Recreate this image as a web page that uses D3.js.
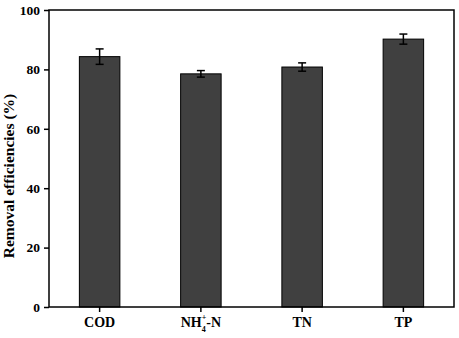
<!DOCTYPE html>
<html>
<head>
<meta charset="utf-8">
<script src="https://cdn.jsdelivr.net/npm/d3@7"></script>
<style>
  body { margin: 0; background: #fff; }
  svg text { font-family: "Liberation Serif", "Times New Roman", serif; font-weight: bold; }
</style>
</head>
<body>
<div id="chart"></div>
<script>
/* CONSTANTS AND GLOBALS */
const width = 459, height = 338,
  margin = {top: 10, bottom: 31, left: 49, right: 5};

// chart values
const categories = ["COD", "NH4+-N", "TN", "TP"];
const removal = [84.3, 78.5, 80.8, 90.2];
const errors = [2.6, 1.1, 1.4, 1.7];
const yTicks = [0, 20, 40, 60, 80, 100];

const data = categories.map((c, i) => ({cat: c, value: removal[i], err: errors[i]}));

const svg = d3.select("#chart")
  .append("svg")
  .attr("width", width)
  .attr("height", height);

const xScale = d3.scaleBand()
  .domain(categories)
  .range([margin.left, width - margin.right])
  .paddingInner(0.6)
  .paddingOuter(0.3);

const yScale = d3.scaleLinear()
  .domain([0, 100])
  .range([height - margin.bottom, margin.top]);

// bars
svg.selectAll(".bar")
  .data(data)
  .join("rect")
  .attr("class", "bar")
  .attr("x", d => xScale(d.cat))
  .attr("y", d => yScale(d.value))
  .attr("width", xScale.bandwidth())
  .attr("height", d => yScale(0) - yScale(d.value))
  .attr("fill", "#404040")
  .attr("stroke", "#000")
  .attr("stroke-width", 1);

// error bars
const errG = svg.selectAll(".err")
  .data(data)
  .join("g")
  .attr("class", "err")
  .attr("stroke", "#000")
  .attr("stroke-width", 1.5);

const cx = d => xScale(d.cat) + xScale.bandwidth() / 2;
errG.append("line")
  .attr("x1", cx).attr("x2", cx)
  .attr("y1", d => yScale(d.value + d.err))
  .attr("y2", d => yScale(d.value - d.err));
errG.append("line")
  .attr("x1", d => cx(d) - 4).attr("x2", d => cx(d) + 4)
  .attr("y1", d => yScale(d.value + d.err))
  .attr("y2", d => yScale(d.value + d.err));
errG.append("line")
  .attr("x1", d => cx(d) - 4).attr("x2", d => cx(d) + 4)
  .attr("y1", d => yScale(d.value - d.err))
  .attr("y2", d => yScale(d.value - d.err));

// frame
svg.append("rect")
  .attr("x", margin.left)
  .attr("y", margin.top)
  .attr("width", width - margin.left - margin.right)
  .attr("height", height - margin.top - margin.bottom)
  .attr("fill", "none")
  .attr("stroke", "#000")
  .attr("stroke-width", 1.5);

// axes
const yAxis = d3.axisLeft(yScale).tickValues(yTicks).tickSize(5).tickPadding(4);
const yAxisGroup = svg.append("g")
  .attr("transform", `translate(${margin.left}, 0)`)
  .call(yAxis);
yAxisGroup.select(".domain").remove();
yAxisGroup.selectAll("line").attr("stroke-width", 1.5);
yAxisGroup.selectAll("text").style("font-size", "13.5px").attr("fill", "#000");

const xAxis = d3.axisBottom(xScale).tickSize(5).tickPadding(5).tickFormat("");
const xAxisGroup = svg.append("g")
  .attr("transform", `translate(0, ${height - margin.bottom})`)
  .call(xAxis);
xAxisGroup.select(".domain").remove();
xAxisGroup.selectAll("line").attr("stroke-width", 1.5);

// x labels, NH4+-N needs sub/superscripts
xAxisGroup.selectAll(".tick").each(function(d) {
  const t = d3.select(this).append("text")
    .attr("y", 20)
    .attr("fill", "#000")
    .attr("text-anchor", "middle")
    .style("font-size", "14px");
  if (d === "NH4+-N") {
    t.append("tspan").text("NH");
    t.append("tspan").attr("dy", 5).style("font-size", "8px").text("4");
    t.append("tspan").attr("dx", -4).attr("dy", -12).style("font-size", "8px").text("+");
    t.append("tspan").attr("dy", 7).text("-N");
  } else {
    t.text(d);
  }
});

// y label
svg.append("text")
  .attr("transform", "rotate(-90)")
  .attr("x", -176)
  .attr("y", 14)
  .attr("text-anchor", "middle")
  .attr("fill", "#000")
  .style("font-size", "15.5px")
  .text("Removal efficiencies (%)");
</script>
</body>
</html>
